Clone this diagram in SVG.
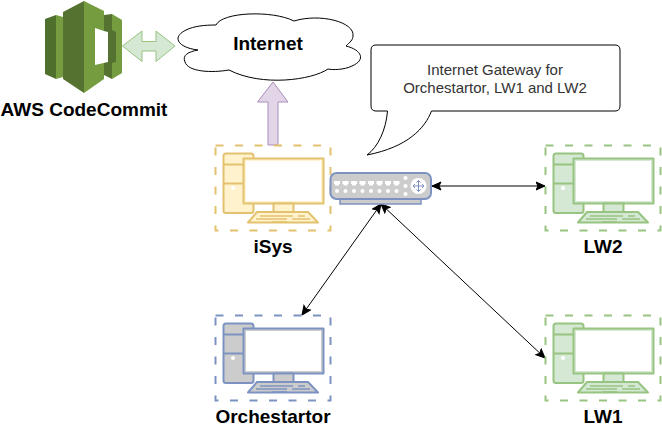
<svg xmlns="http://www.w3.org/2000/svg" xmlns:xlink="http://www.w3.org/1999/xlink" width="662" height="431" viewBox="0 0 662 431">
<style>
text{font-family:"Liberation Sans",Arial,sans-serif;text-anchor:middle;fill:#000}
.lbl{font-size:19px;font-weight:bold}
.note{font-size:15px;fill:#333}
.dash{fill:none;stroke-width:2;stroke-dasharray:8 11.5}
.pc{stroke-width:2;stroke-linejoin:round}
.scr{fill:#fff;stroke:none}
.key{fill:none;stroke-width:1.6}
.conn{fill:none;stroke:#000;stroke-width:1}
.yel{stroke:#e3c26f;fill:#fff2cc}
.grn{stroke:#97c480;fill:#d5e8d4}
.blu{stroke:#7c93c1;fill:#ccc}
.port{fill:#fff}
</style>
<defs>
<marker id="ah" viewBox="0 0 10 10" refX="9.5" refY="5" markerWidth="10" markerHeight="10" orient="auto-start-reverse" markerUnits="userSpaceOnUse"><path d="M0.5 1L9.5 5L0.5 9L2.5 5Z" fill="#000" stroke="#000" stroke-width="1"/></marker>
<g id="pc">
<rect class="dash" x="0.500" y="0.500" width="115" height="85"/>
<rect class="pc" x="8.500" y="8.500" width="30" height="59.500" rx="2.500"/>
<path class="pc" d="M8.500 19.500H28.500M8.500 38.500H28.500" fill="none"/>
<circle cx="18" cy="43" r="2" fill="#fff" stroke="none"/>
<rect class="pc" x="28.500" y="13.500" width="80" height="45"/>
<rect class="scr" x="31" y="16" width="75" height="40"/>
<rect class="pc" x="58.500" y="58.500" width="20" height="8.500"/>
<path class="pc" d="M42 67H93L103 77.500H33Z"/>
<path class="key" d="M45 71H78M83 71H90M41 74H72M77 74H95M57 77H72"/>
</g>
</defs>

<g id="connectors">
<path class="conn" d="M432 186H545" marker-start="url(#ah)" marker-end="url(#ah)"/>
<path class="conn" d="M381 204L302 315" marker-start="url(#ah)" marker-end="url(#ah)"/>
<path class="conn" d="M381 204L545 358" marker-start="url(#ah)" marker-end="url(#ah)"/>
</g>

<g id="codecommit">
<path d="M45 19L56 15V79L45 74Z" fill="#4f6f2c"/>
<path d="M56 15L63 17V77L56 79Z" fill="#759c3e"/>
<path d="M63 12L84 1V93L63 79Z" fill="#557230"/>
<path d="M84 1L104 11V79L84 93Z" fill="#759c3e"/>
<path d="M112 14L122 20V73L112 79Z" fill="#759c3e"/>
<path d="M104 15L112 14V30L116 32V62L112 63V79L104 75Z" fill="#557230"/>
<path d="M95 28L104 31L108 32V62L95 65Z" fill="#fff"/>
</g>
<text class="lbl" x="84" y="116">AWS CodeCommit</text>

<g id="gitlink">
<path d="M122.500 46L142 31V41.500H156V31L175 46L156 61.500V51H142V61.500Z" fill="#d5e8d4" stroke="#97c480" stroke-width="1"/>
</g>

<g id="internet-cloud">
<path d="M216 25C222 12 272 10 294 21C320 13 355 22 353 36C353 40 350 42 346 46C362 50 366 60 352 66C344 70 332 70 328 69C312 80 262 87 229 70C212 73 188 72 185 62C182 55 188 52 198 50C180 48 170 38 186 30C194 26 205 25 216 25Z" fill="#fff" stroke="#000" stroke-width="1"/>
<text class="lbl" x="268" y="50">Internet</text>
</g>

<g id="uplink">
<path d="M273 82L288 102H278V145H268V102H257.500Z" fill="#e1d5e7" stroke="#a98dbb" stroke-width="1"/>
</g>

<g id="callout">
<path d="M376 45H615Q620 45 620 50V106Q620 111 615 111H431.500C425 128 408 147 367 155C378 147 386 130 387.500 111H376Q371 111 371 106V50Q371 45 376 45Z" fill="#fff" stroke="#000" stroke-width="1"/>
<text class="note" x="495" y="75">Internet Gateway for</text>
<text class="note" x="495" y="93">Orchestartor, LW1 and LW2</text>
</g>

<g id="isys"><use xlink:href="#pc" x="215" y="145" class="yel"/><text class="lbl" x="273" y="253">iSys</text></g>
<g id="lw2"><use xlink:href="#pc" x="545" y="145" class="grn"/><text class="lbl" x="603" y="253">LW2</text></g>
<g id="orchestartor"><use xlink:href="#pc" x="215" y="315" class="blu"/><text class="lbl" x="273" y="423">Orchestartor</text></g>
<g id="lw1"><use xlink:href="#pc" x="545" y="315" class="grn"/><text class="lbl" x="603" y="423">LW1</text></g>

<g id="switch">
<rect x="340" y="196" width="81" height="8" fill="#ccc" stroke="#7c93c1" stroke-width="1.500"/>
<rect x="330.500" y="173" width="100.500" height="26" rx="6" fill="#ccc" stroke="#7c93c1" stroke-width="2"/>
<g class="port">
<path d="M334 181h6v3h-1v1.500h-4v-1.500h-1zM342.500 181h6v3h-1v1.500h-4v-1.500h-1zM351 181h6v3h-1v1.500h-4v-1.500h-1zM359.500 181h6v3h-1v1.500h-4v-1.500h-1zM368 181h6v3h-1v1.500h-4v-1.500h-1zM376.500 181h6v3h-1v1.500h-4v-1.500h-1zM385 181h6v3h-1v1.500h-4v-1.500h-1zM393.500 181h6v3h-1v1.500h-4v-1.500h-1z"/>
<circle cx="337" cy="191" r="2"/><circle cx="345.500" cy="191" r="2"/><circle cx="354" cy="191" r="2"/><circle cx="362.500" cy="191" r="2"/><circle cx="371" cy="191" r="2"/><circle cx="379.500" cy="191" r="2"/><circle cx="388" cy="191" r="2"/><circle cx="396.500" cy="191" r="2"/>
<circle cx="405.500" cy="178" r="2"/><circle cx="405.500" cy="186" r="2"/><circle cx="405.500" cy="194" r="2"/>
<circle cx="418.500" cy="186" r="8"/>
</g>
<path d="M413 186H424M418.500 180.500V191.500M415 184L413 186L415 188M422 184L424 186L422 188M416.500 182.500L418.500 180.500L420.500 182.500M416.500 189.500L418.500 191.500L420.500 189.500" fill="none" stroke="#7c93c1" stroke-width="1"/>
</g>
</svg>
